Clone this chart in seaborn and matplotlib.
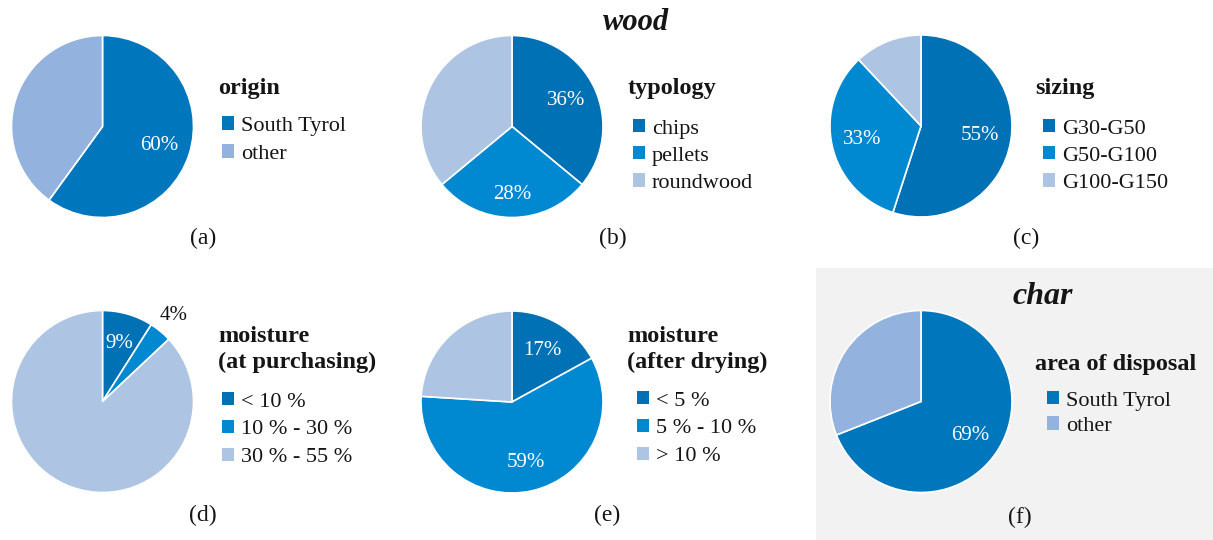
import numpy as np
import matplotlib
matplotlib.use("Agg")
import matplotlib.pyplot as plt
from matplotlib.patches import Patch, Rectangle
import seaborn as sns

# ---- data -----------------------------------------------------------------
origin_labels = ["South Tyrol", "other"]
origin_values = [60, 40]

typology_labels = ["chips", "pellets", "roundwood"]
typology_values = [36, 28, 36]

sizing_labels = ["G30-G50", "G50-G100", "G100-G150"]
sizing_values = [55, 33, 12]

moist_buy_labels = ["< 10 %", "10 % - 30 %", "30 % - 55 %"]
moist_buy_values = [9, 4, 87]

moist_dry_labels = ["< 5 %", "5 % - 10 %", "> 10 %"]
moist_dry_values = [17, 59, 24]

disposal_labels = ["South Tyrol", "other"]
disposal_values = [69, 31]

# ---- style ----------------------------------------------------------------
sns.set_theme(style="white")
plt.rcParams["font.family"] = ["Liberation Serif", "DejaVu Serif"]

TWO = ["#0077BD", "#93B3DE"]
THREE = ["#0071B4", "#0089D1", "#ADC4E3"]
TXT = "#151515"

W, H = 1213, 540
fig = plt.figure(figsize=(W / 100, H / 100), dpi=100)
fig.patch.set_facecolor("white")


def fx(x):
    return x / W


def fy(y):
    return 1 - y / H


# light grey panel behind the char chart
fig.patches.append(Rectangle((fx(816), fy(540)), fx(1213) - fx(816), fy(268) - fy(540),
                             transform=fig.transFigure, facecolor="#F2F2F2",
                             edgecolor="none", zorder=-10))

LIM = 1.04


def pie_panel(cx, cy, r, values, labels, colors, title_lines, title_xy, legend_xy,
              tag, tag_xy, pct_dist=None, outside=None, spacing=0.37):
    half = r * LIM
    ax = fig.add_axes([fx(cx - half), fy(cy + half), 2 * half / W, 2 * half / H])
    ax.set_facecolor("none")
    wedges, _ = ax.pie(values, colors=colors, startangle=90, counterclock=False,
                       radius=1, wedgeprops=dict(edgecolor="white", linewidth=1.2))
    ax.set_xlim(-LIM, LIM)
    ax.set_ylim(-LIM, LIM)
    ax.set_aspect("equal")
    ax.axis("off")

    # percentage labels on every slice but the last (lightest) one
    pct_dist = pct_dist or [0.66] * len(values)
    outside = outside or [False] * len(values)
    for i, (w, v) in enumerate(zip(wedges, values)):
        if i == len(values) - 1:
            continue
        mid = np.deg2rad((w.theta1 + w.theta2) / 2)
        d = pct_dist[i]
        ax.text(d * np.cos(mid), d * np.sin(mid), f"{v}%", ha="center", va="center",
                fontsize=15, color=TXT if outside[i] else "white")

    # legend heading
    tx, ty = title_xy
    for k, line in enumerate(title_lines):
        fig.text(fx(tx), fy(ty + 26 * k), line, fontsize=17.5, fontweight="bold",
                 ha="left", va="baseline", color=TXT)

    handles = [Patch(facecolor=c, edgecolor="none") for c in colors]
    ax.legend(handles, labels, loc="upper left", bbox_to_anchor=(fx(legend_xy[0]), fy(legend_xy[1])),
              bbox_transform=fig.transFigure, frameon=False, fontsize=16,
              handlelength=0.55, handleheight=0.55, handletextpad=0.3,
              labelspacing=spacing, borderpad=0, borderaxespad=0, labelcolor=TXT)

    fig.text(fx(tag_xy[0]), fy(tag_xy[1]), tag, fontsize=17, ha="center", va="center", color=TXT)
    return ax


pie_panel(102.5, 126.5, 91, origin_values, origin_labels, TWO,
          ["origin"], (218, 94), (222, 116.5), "(a)", (203, 238))
pie_panel(512, 126.5, 91, typology_values, typology_labels, THREE,
          ["typology"], (628, 94), (633, 119), "(b)", (613, 238),
          pct_dist=[0.66, 0.75, 0.66], spacing=0.34)
pie_panel(921, 126, 91, sizing_values, sizing_labels, THREE,
          ["sizing"], (1035, 94), (1043, 119), "(c)", (1026, 238), spacing=0.34)
pie_panel(102.5, 401.5, 91, moist_buy_values, moist_buy_labels, THREE,
          ["moisture", "(at purchasing)"], (218, 342), (222, 392), "(d)", (203, 515),
          pct_dist=[0.66, 1.22, 0.66], outside=[False, True, False], spacing=0.37)
pie_panel(512, 402, 91, moist_dry_values, moist_dry_labels, THREE,
          ["moisture", "(after drying)"], (627, 342), (637, 391), "(e)", (607, 515),
          pct_dist=[0.66, 0.68, 0.66], spacing=0.37)
pie_panel(921, 401.5, 91, disposal_values, disposal_labels, TWO,
          ["area of disposal"], (1035, 370), (1047, 391), "(f)", (1020, 517),
          spacing=0.25)

fig.text(fx(636), fy(23), "wood", fontsize=22, fontweight="bold", fontstyle="italic",
         ha="center", va="center", color=TXT)
fig.text(fx(1043), fy(297), "char", fontsize=23, fontweight="bold", fontstyle="italic",
         ha="center", va="center", color=TXT)

fig.savefig("out.png", dpi=100, facecolor=fig.get_facecolor())
